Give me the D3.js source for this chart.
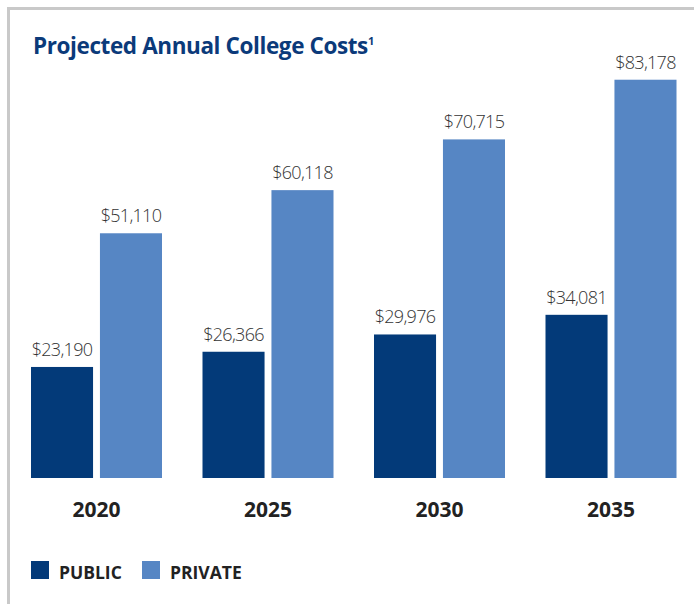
<!DOCTYPE html>
<html>
<head>
<meta charset="utf-8">
<script src="https://cdn.jsdelivr.net/npm/d3@7"></script>
<style>
  body { margin: 0; background: #fff; }
</style>
</head>
<body>
<script>
const years = ["2020", "2025", "2030", "2035"];
const publicCosts = [23190, 26366, 29976, 34081];
const privateCosts = [51110, 60118, 70715, 83178];
const seriesNames = ["PUBLIC", "PRIVATE"];
const colors = ["#033a79", "#5686c4"];

const W = 694, H = 604;
const baseline = 478;

const svg = d3.select("body").append("svg")
   .attr("width", W)
   .attr("height", H);

// frame (top + left only)
svg.append("rect").attr("x", 7).attr("y", 7).attr("width", W - 7).attr("height", 3).attr("fill", "#c9c9c9");
svg.append("rect").attr("x", 7).attr("y", 7).attr("width", 3).attr("height", H - 7).attr("fill", "#c9c9c9");

// title
const title = svg.append("text")
   .attr("x", 33)
   .attr("y", 54)
   .style("font-family", "'Open Sans', sans-serif")
   .style("font-weight", 700)
   .style("font-size", "22.5px")
   .style("letter-spacing", "-0.4px")
   .style("fill", "#0b3a7a");
title.append("tspan").text("Projected Annual College Costs");
title.append("tspan").text("1").attr("dy", -9).style("font-size", "11px");

const x0 = d3.scaleBand()
   .domain(years)
   .range([14, 700])
   .paddingInner(0)
   .paddingOuter(0);

const x1 = d3.scaleBand()
   .domain(seriesNames)
   .range([17, 148])
   .paddingInner(0.1);

const y = d3.scaleLinear()
   .domain([0, 85000])
   .range([baseline, 71]);

const data = years.map((yr, i) => ({
  year: yr,
  vals: [
    { key: "PUBLIC", v: publicCosts[i] },
    { key: "PRIVATE", v: privateCosts[i] }
  ]
}));

const fmt = d3.format("$,");

const g = svg.selectAll("g.year")
   .data(data)
   .enter()
   .append("g")
   .attr("class", "year")
   .attr("transform", d => "translate(" + x0(d.year) + ",0)");

g.selectAll("rect")
   .data(d => d.vals)
   .enter()
   .append("rect")
   .attr("x", d => x1(d.key))
   .attr("y", d => y(d.v))
   .attr("width", x1.bandwidth())
   .attr("height", d => baseline - y(d.v))
   .style("fill", (d, i) => colors[i]);

g.selectAll("text.val")
   .data(d => d.vals)
   .enter()
   .append("text")
   .attr("class", "val")
   .attr("x", d => x1(d.key) + x1.bandwidth() / 2)
   .attr("y", d => y(d.v) - 11)
   .attr("text-anchor", "middle")
   .style("font-family", "'Open Sans', sans-serif")
   .style("font-weight", 300)
   .style("font-size", "18px")
   .style("letter-spacing", "-0.7px")
   .style("fill", "#333")
   .text(d => fmt(d.v));

g.append("text")
   .attr("x", (x1("PUBLIC") + x1("PRIVATE") + x1.bandwidth()) / 2)
   .attr("y", 517)
   .attr("text-anchor", "middle")
   .style("font-family", "'Open Sans', sans-serif")
   .style("font-weight", 700)
   .style("font-size", "21px")
   .style("fill", "#222")
   .text(d => d.year);

// legend
const legendX = [31, 142];
const leg = svg.selectAll("g.legend")
   .data(seriesNames)
   .enter()
   .append("g")
   .attr("class", "legend")
   .attr("transform", (d, i) => "translate(" + legendX[i] + ",561)");

leg.append("rect")
   .attr("width", 18)
   .attr("height", 18)
   .style("fill", (d, i) => colors[i]);

leg.append("text")
   .attr("x", 28)
   .attr("y", 18)
   .style("font-family", "'Open Sans', sans-serif")
   .style("font-weight", 700)
   .style("font-size", "17.5px")
   .style("fill", "#222")
   .text(d => d);
</script>
</body>
</html>
